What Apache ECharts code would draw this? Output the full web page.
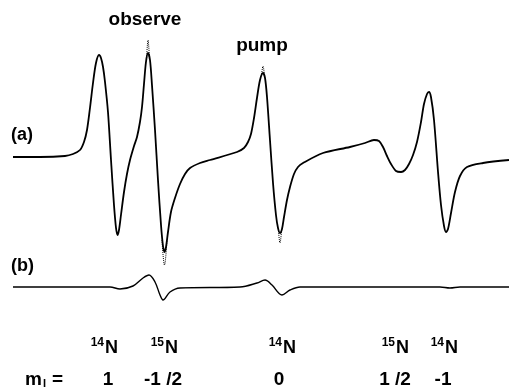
<!DOCTYPE html>
<html>
<head>
<meta charset="utf-8">
<script src="https://cdn.jsdelivr.net/npm/echarts@6/dist/echarts.min.js"></script>
<style>
    html, body { margin: 0; padding: 0; background: #fff; }
    #my_echart { width: 509px; height: 390px; }
</style>
</head>
<body>
<div id="my_echart"></div>
<script>
// field position (arbitrary units 0-100) and derivative signal, trace (a)
var fieldA = [
    0, 5.44, 10.48, 12.10, 13.51, 14.31, 14.92, 15.52, 16.13, 16.73,
    17.34, 17.74, 18.15, 18.55, 19.15, 19.76, 20.36, 20.77, 21.07, 21.37,
    21.77, 22.38, 22.98, 23.59, 24.40, 25.00, 25.60, 26.01, 26.41, 26.81,
    27.22, 27.62, 28.02, 28.63, 29.23, 29.84, 30.24, 30.54, 30.85, 31.25,
    31.85, 32.66, 33.67, 34.68, 35.69, 37.70, 39.72, 45.16, 46.57, 47.38,
    47.98, 48.59, 49.19, 49.80, 50.40, 50.81, 51.21, 51.81, 52.42, 53.02,
    53.43, 53.83, 54.23, 54.64, 55.24, 55.85, 56.65, 57.46, 58.47, 62.50,
    67.94, 70.97, 72.78, 73.79, 74.60, 75.40, 76.21, 77.22, 78.23, 79.03,
    79.84, 80.65, 81.45, 82.26, 82.86, 83.47, 83.87, 84.27, 84.88, 85.69,
    86.29, 86.90, 87.30, 87.70, 88.31, 89.11, 90.12, 91.53, 94.76, 100
];
var signalA = [
    0, 0, 0.01, 0.03, 0.07, 0.15, 0.27, 0.49, 0.74, 0.94,
    1.02, 0.99, 0.90, 0.75, 0.45, -0.03, -0.48, -0.71, -0.78, -0.73,
    -0.58, -0.35, -0.17, -0.03, 0.11, 0.20, 0.35, 0.50, 0.73, 0.95,
    1.04, 0.97, 0.72, 0.27, -0.23, -0.68, -0.89, -0.95, -0.90, -0.75,
    -0.55, -0.41, -0.27, -0.17, -0.11, -0.06, -0.03, 0.05, 0.09, 0.15,
    0.23, 0.39, 0.59, 0.77, 0.84, 0.79, 0.60, 0.17, -0.26, -0.58,
    -0.71, -0.76, -0.72, -0.60, -0.43, -0.30, -0.17, -0.10, -0.06, 0.04,
    0.10, 0.14, 0.17, 0.16, 0.10, 0.01, -0.07, -0.14, -0.15, -0.13,
    -0.07, 0.02, 0.15, 0.35, 0.53, 0.63, 0.65, 0.60, 0.37, -0.15,
    -0.48, -0.69, -0.75, -0.72, -0.56, -0.35, -0.19, -0.10, -0.06, -0.03
];
// dotted trace, only the tips that stick out of the solid one (null = gap)
var fieldDot = [
    26.92, 27.22, 27.52, null,
    30.04, 30.54, 31.05, null,
    50.10, 50.40, 50.71, null,
    53.53, 53.83, 54.13
];
var signalDot = [
    0.97, 1.17, 0.97, null,
    -0.83, -1.08, -0.83, null,
    0.81, 0.91, 0.81, null,
    -0.74, -0.86, -0.74
];
// trace (b), difference spectrum
var fieldB = [0, 19.56, 21.57, 24.19, 26.21, 27.42, 28.63, 29.64, 30.24, 31.65,
    33.67, 45.77, 49.19, 50.81, 52.22, 54.23, 55.85, 57.86, 86.09, 88.10, 90.12, 100];
var signalB = [0, 0, -0.02, 0.01, 0.09, 0.12, 0.05, -0.08, -0.13, -0.05,
    -0.01, 0, 0.04, 0.07, 0.02, -0.08, -0.03, 0, 0, -0.01, 0, 0];

// labels under the lines
var isotopeMass = ['14', '15', '14', '15', '14'];
var isotopeSym = ['N', 'N', 'N', 'N', 'N'];
var mILabels = ['1', '-1 /2', '0', '1 /2', '-1'];

function toPairs(xs, ys) {
    var out = [];
    for (var i = 0; i < xs.length; i++) {
        if (ys[i] === null) {
            out.push(['-', '-']);
        } else {
            out.push([xs[i], ys[i]]);
        }
    }
    return out;
}

var FONT = '"Liberation Sans", Arial, Helvetica, sans-serif';
var mychart = echarts.init(document.getElementById('my_echart'));

function txt(x, y, text, size, align) {
    return {
        type: 'text', x: x, y: y,
        style: { text: text, font: 'bold ' + size + 'px ' + FONT, fill: '#000', textAlign: align || 'left', textVerticalAlign: 'middle' }
    };
}

// label layout (pixel)
var labelX = [104, 164, 282, 395, 444];
var mIX = [108, 163, 279, 395, 443];
var graphics = [
    txt(145, 20, 'observe', 19, 'center'),
    txt(262, 46, 'pump', 19, 'center'),
    txt(11, 135, '(a)', 18),
    txt(11, 266, '(b)', 18),
    txt(25, 380, 'm', 19),
    txt(43, 384, 'I', 11),
    txt(52, 380, '=', 19)
];
for (var i = 0; i < isotopeSym.length; i++) {
    graphics.push(txt(labelX[i], 343, isotopeMass[i], 12, 'right'));
    graphics.push(txt(labelX[i] + 1, 348, isotopeSym[i], 18));
    graphics.push(txt(mIX[i], 380, mILabels[i], 19, 'center'));
}

mychart.setOption({
    animation: false,
    backgroundColor: '#fff',
    grid: [
        { left: 13, right: 0, top: 37, height: 240 },
        { left: 13, right: 0, top: 267, height: 40 }
    ],
    xAxis: [
        { type: 'value', gridIndex: 0, min: 0, max: 100, show: false },
        { type: 'value', gridIndex: 1, min: 0, max: 100, show: false }
    ],
    yAxis: [
        { type: 'value', gridIndex: 0, min: -1.2, max: 1.2, show: false },
        { type: 'value', gridIndex: 1, min: -0.2, max: 0.2, show: false }
    ],
    series: [
        {
            name: 'a',
            type: 'line',
            xAxisIndex: 0,
            yAxisIndex: 0,
            data: toPairs(fieldA, signalA),
            smooth: 0.3,
            symbol: 'none',
            z: 3,
            lineStyle: { color: '#000', width: 1.8 }
        },
        {
            name: 'a-dot',
            type: 'line',
            xAxisIndex: 0,
            yAxisIndex: 0,
            data: toPairs(fieldDot, signalDot),
            smooth: 0.4,
            symbol: 'none',
            connectNulls: false,
            z: 2,
            lineStyle: { color: '#000', width: 1, type: 'dotted' }
        },
        {
            name: 'b',
            type: 'line',
            xAxisIndex: 1,
            yAxisIndex: 1,
            data: toPairs(fieldB, signalB),
            smooth: 0.35,
            symbol: 'none',
            lineStyle: { color: '#000', width: 1.4 }
        }
    ],
    graphic: graphics
});
</script>
</body>
</html>
